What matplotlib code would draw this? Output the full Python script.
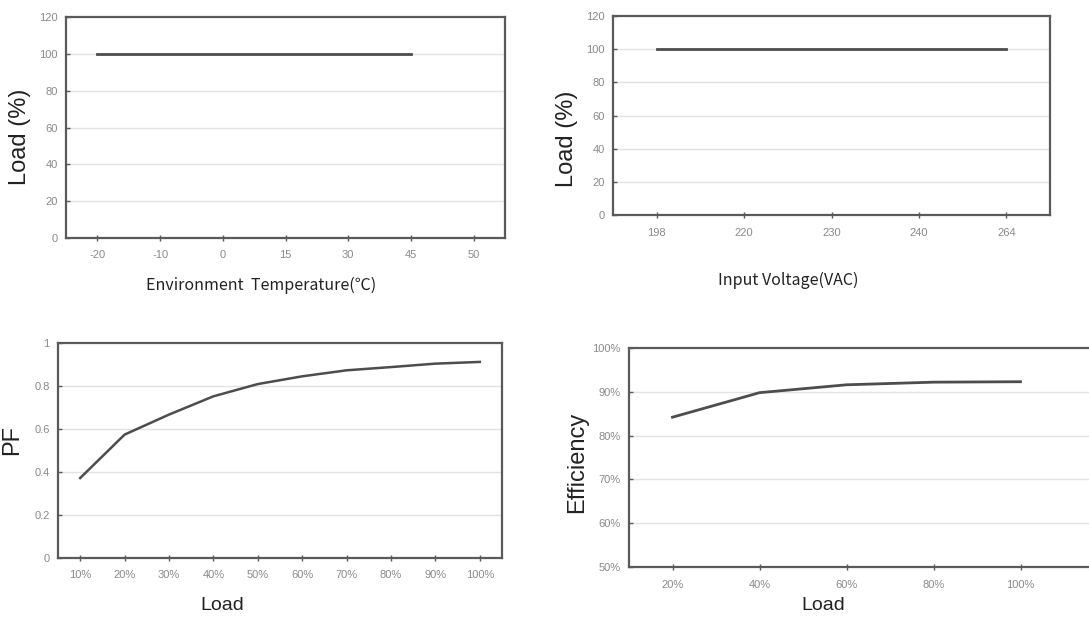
import matplotlib
matplotlib.use("Agg")
import matplotlib.pyplot as plt

# data
temp_labels = ['-20', '-10', '0', '15', '30', '45', '50']
temp_load = [100, 100, 100, 100, 100, 100]

volt_labels = ['198', '220', '230', '240', '264']
volt_load = [100, 100, 100, 100, 100]

pf_labels = ['10%', '20%', '30%', '40%', '50%', '60%', '70%', '80%', '90%', '100%']
pf_values = [0.372, 0.574, 0.667, 0.752, 0.809, 0.845, 0.873, 0.888, 0.904, 0.912]

eff_labels = ['20%', '40%', '60%', '80%', '100%']
eff_values = [84.2, 89.8, 91.6, 92.2, 92.3]
eff_ticks = [50, 60, 70, 80, 90, 100]
eff_tick_labels = ['50%', '60%', '70%', '80%', '90%', '100%']

W, H = 1089, 619
LINE = '#4d4d4d'
SPINE = '#5a5a5a'
GRID = '#e3e3e3'
TICK = '#8a8a8a'


def px_axes(fig, left, top, right, bottom):
    return fig.add_axes([left / W, 1 - bottom / H, (right - left) / W, (bottom - top) / H])


def style_axes(ax, labels, xlim, ylim, yticks, ytick_labels=None):
    ax.set_xticks(range(len(labels)))
    ax.set_xticklabels(labels)
    ax.set_xlim(*xlim)
    ax.set_ylim(*ylim)
    ax.set_yticks(yticks)
    if ytick_labels is not None:
        ax.set_yticklabels(ytick_labels)
    for s in ax.spines.values():
        s.set_color(SPINE)
        s.set_linewidth(1.6)
    ax.tick_params(axis='x', direction='inout', length=4, width=1.0, color=SPINE,
                   labelsize=8, labelcolor=TICK, pad=7)
    ax.tick_params(axis='y', direction='in', length=3, width=1.0, color=SPINE,
                   labelsize=8, labelcolor=TICK, pad=6)
    for y in yticks[1:-1]:
        ax.axhline(y, color=GRID, lw=1.0, zorder=0)
    for t in ax.get_xticklabels() + ax.get_yticklabels():
        t.set_family('Liberation Sans')


fig = plt.figure(figsize=(W / 100, H / 100), dpi=100)

# top left
ax1 = px_axes(fig, 66, 17, 505, 238)
ax1.plot(range(len(temp_load)), temp_load, color=LINE, lw=2)
style_axes(ax1, temp_labels, (-0.5, 6.5), (0, 120), [0, 20, 40, 60, 80, 100, 120])

# top right
ax2 = px_axes(fig, 613, 16, 1050, 215)
ax2.plot(range(len(volt_load)), volt_load, color=LINE, lw=2)
style_axes(ax2, volt_labels, (-0.5, 4.5), (0, 120), [0, 20, 40, 60, 80, 100, 120])

# bottom left
ax3 = px_axes(fig, 58, 343, 502, 558)
ax3.plot(range(len(pf_values)), pf_values, color=LINE, lw=1.8)
style_axes(ax3, pf_labels, (-0.5, 9.5), (0, 1), [0, 0.2, 0.4, 0.6, 0.8, 1],
           ['0', '0.2', '0.4', '0.6', '0.8', '1'])

# bottom right, frame runs past the right edge
ax4 = px_axes(fig, 629, 348, 1100, 567)
ax4.plot(range(len(eff_values)), eff_values, color=LINE, lw=2)
style_axes(ax4, eff_labels, (-0.5, -0.5 + 471 / 87.0), (50, 100), eff_ticks, eff_tick_labels)

# axis titles
big = dict(family='Liberation Sans', fontsize=17, color='#222222', rotation=90,
           ha='center', va='center')
fig.text(20 / W, 1 - 137 / H, 'Load (%)', **big)
fig.text(567 / W, 1 - 139 / H, 'Load (%)', **big)
fig.text(12 / W, 1 - 440 / H, 'PF', **big)
fig.text(577 / W, 1 - 462 / H, 'Efficiency', **big)

cjk = ['Noto Sans CJK KR', 'DejaVu Sans']
fig.text(261 / W, 1 - 285 / H, 'Environment  Temperature(℃)', family=cjk,
         fontsize=11.5, color='#222222', ha='center', va='center')
fig.text(788 / W, 1 - 280 / H, 'Input Voltage(VAC)', family=cjk,
         fontsize=11.5, color='#222222', ha='center', va='center')

fig.text(222 / W, 1 - 606 / H, 'Load', family='Liberation Sans', fontsize=14,
         color='#222222', ha='center', va='center')
fig.text(823 / W, 1 - 606 / H, 'Load', family='Liberation Sans', fontsize=14,
         color='#222222', ha='center', va='center')

fig.savefig('out.png', dpi=100)
